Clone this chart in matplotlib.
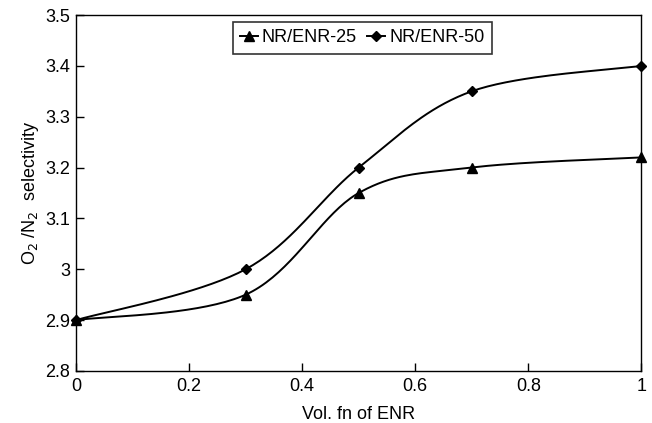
import numpy as np
import matplotlib.pyplot as plt

plt.rcParams['font.family'] = ['Liberation Sans', 'DejaVu Sans']

vol_fn = [0, 0.3, 0.5, 0.7, 1.0]
enr25 = [2.9, 2.95, 3.15, 3.2, 3.22]
enr50 = [2.9, 3.0, 3.2, 3.35, 3.4]


def smooth(x, y, n=40):
    # catmull-rom style bezier like a spreadsheet "smoothed line"
    x = np.asarray(x, float)
    y = np.asarray(y, float)
    px = np.concatenate([[x[0]], x, [x[-1]]])
    py = np.concatenate([[y[0]], y, [y[-1]]])
    xs, ys = [], []
    t = np.linspace(0, 1, n)
    for i in range(1, len(px) - 2):
        p0 = np.array([px[i], py[i]])
        p3 = np.array([px[i + 1], py[i + 1]])
        p1 = p0 + (np.array([px[i + 1], py[i + 1]]) - np.array([px[i - 1], py[i - 1]])) / 6
        p2 = p3 - (np.array([px[i + 2], py[i + 2]]) - np.array([px[i], py[i]])) / 6
        b = ((1 - t) ** 3)[:, None] * p0 + (3 * (1 - t) ** 2 * t)[:, None] * p1 \
            + (3 * (1 - t) * t ** 2)[:, None] * p2 + (t ** 3)[:, None] * p3
        xs.extend(b[:, 0])
        ys.extend(b[:, 1])
    return xs, ys


fig = plt.figure(figsize=(6.52, 4.23), dpi=100)
ax = fig.add_axes([0.1166, 0.123, 0.867, 0.8415])

sx, sy = smooth(vol_fn, enr25)
ax.plot(sx, sy, color='black', lw=1.4)
ax.plot(vol_fn, enr25, ls='none', marker='^', ms=6.5, color='black', clip_on=False)
sx, sy = smooth(vol_fn, enr50)
ax.plot(sx, sy, color='black', lw=1.4)
ax.plot(vol_fn, enr50, ls='none', marker='D', ms=5, color='black', clip_on=False)

h1 = ax.plot([], [], color='black', lw=1.4, marker='^', ms=6.5, label='NR/ENR-25')[0]
h2 = ax.plot([], [], color='black', lw=1.4, marker='D', ms=5, label='NR/ENR-50')[0]
leg = ax.legend(handles=[h1, h2], loc='upper center', bbox_to_anchor=(0.506, 0.98), ncol=2,
                fontsize=13, frameon=True, fancybox=False, edgecolor='black',
                handlelength=1.0, handletextpad=0.2, columnspacing=0.6, borderpad=0.4,
                borderaxespad=0)
leg.get_frame().set_linewidth(1.2)

ax.set_xlim(0, 1)
ax.set_ylim(2.8, 3.5)
ax.set_xticks([0, 0.2, 0.4, 0.6, 0.8, 1])
ax.set_xticklabels(['0', '0.2', '0.4', '0.6', '0.8', '1'])
ax.set_yticks([2.8, 2.9, 3.0, 3.1, 3.2, 3.3, 3.4, 3.5])
ax.set_yticklabels(['2.8', '2.9', '3', '3.1', '3.2', '3.3', '3.4', '3.5'])
ax.tick_params(direction='in', length=6, labelsize=13, width=1, pad=5)
ax.tick_params(axis='y', pad=4)
for s in ax.spines.values():
    s.set_linewidth(1.0)
ax.set_xlabel('Vol. fn of ENR', fontsize=13, labelpad=8)
ax.set_ylabel(r'O$_2$ /N$_2$  selectivity', fontsize=13, labelpad=3)

fig.savefig('out.png', dpi=100)
